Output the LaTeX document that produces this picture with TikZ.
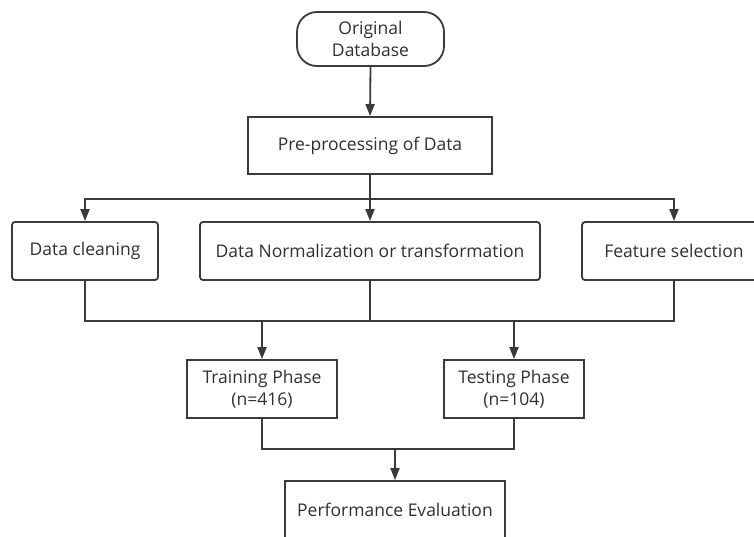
\documentclass[tikz,border=0pt]{standalone}
\usepackage{fontspec}
\setmainfont{Open Sans}
\usetikzlibrary{arrows.meta}
\definecolor{ln}{HTML}{3A3A3A}
\definecolor{tx}{HTML}{303030}
\tikzset{
  box/.style={draw=ln, line width=1.8pt, fill=white, text=tx, align=center, inner sep=0pt, font=\fontsize{17.5}{22}\selectfont},
  rbox/.style={box, rounded corners=3pt},
  conn/.style={draw=ln, line width=1.8pt},
  arr/.style={conn, -{Triangle[length=12pt,width=9pt]}}
}
\begin{document}
\begin{tikzpicture}[x=1pt,y=-1pt]
\useasboundingbox (0,0) rectangle (754,536);
\clip (0,0) rectangle (754,536);
\node[box, rounded corners=20pt, minimum width=147pt, minimum height=54pt] (od) at (370.5,39) {Original\\Database};
\node[box, minimum width=244pt, minimum height=57pt] (pp) at (370,145.5) {Pre-processing of Data};
\node[rbox, minimum width=146pt, minimum height=58pt] (dc) at (85,251) {Data cleaning};
\node[rbox, minimum width=340pt, minimum height=58pt] (dn) at (370,251) {Data Normalization or transformation};
\node[rbox, minimum width=184pt, minimum height=58pt] (fs) at (674,251) {Feature selection};
\node[box, minimum width=150pt, minimum height=58pt] (tr) at (262,389) {Training Phase\\(n=416)};
\node[box, minimum width=140pt, minimum height=58pt] (te) at (514,389) {Testing Phase\\(n=104)};
\node[box, minimum width=220pt, minimum height=58pt] (pe) at (395,510) {Performance Evaluation};
\coordinate (s1) at (370,199);
\coordinate (j1) at (370,321);
\coordinate (j2) at (395,449);
\draw[arr] (od.south) -- (pp.north);
\draw[conn] (pp.south) -- (s1);
\draw[arr] (s1) -| (dc.north);
\draw[arr] (s1) -| (fs.north);
\draw[arr] (s1) -- (dn.north);
\draw[conn] (dc.south) |- (j1) -| (fs.south);
\draw[conn] (dn.south) -- (j1);
\draw[arr] (tr.north |- j1) -- (tr.north);
\draw[arr] (te.north |- j1) -- (te.north);
\draw[conn] (tr.south) |- (j2) -| (te.south);
\draw[arr] (j2) -- (pe.north);
\end{tikzpicture}
\end{document}
